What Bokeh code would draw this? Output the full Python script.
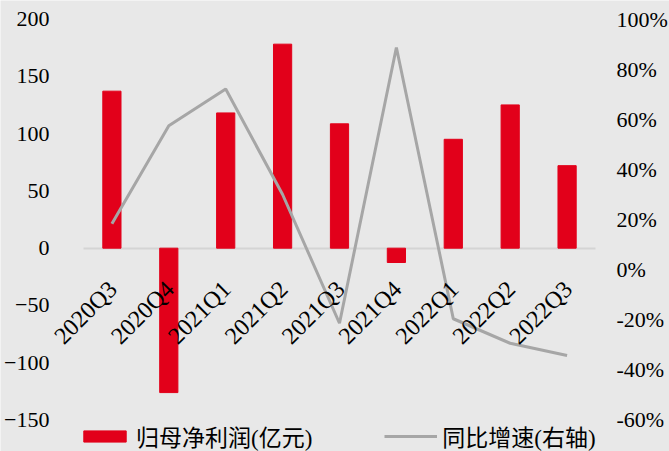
import math
from bokeh.plotting import figure
from bokeh.models import (Range1d, LinearAxis, FixedTicker, NumeralTickFormatter,
                          Legend, LegendItem, ColumnDataSource)
from bokeh.core.properties import value
from bokeh.embed import file_html
from bokeh.resources import INLINE

quarters = ["2020Q3", "2020Q4", "2021Q1", "2021Q2", "2021Q3", "2021Q4",
            "2022Q1", "2022Q2", "2022Q3"]
net_profit = [137, -126, 118, 178, 108.5, -12.5, 95, 125, 72]          # 亿元
yoy_growth = [0.183, 0.575, 0.722, 0.30, -0.215, 0.888, -0.197, -0.295, -0.344]

left_ticks = [-150, -100, -50, 0, 50, 100, 150, 200]
right_ticks = [-0.6, -0.4, -0.2, 0.0, 0.2, 0.4, 0.6, 0.8, 1.0]

BG = "#e8e8e8"
RED = "#e2001a"
GRAY = "#a6a6a6"
TICK_FONT = "Liberation Serif"
CJK_FONT = "Liberation Serif, 'Noto Sans CJK SC'"

n = len(quarters)
idx = list(range(n))
src = ColumnDataSource(dict(x=idx, q=quarters, v=net_profit, g=yoy_growth,
                            z=[0] * n))

# the plot frame covers the whole canvas; axes sit at fixed locations inside it
p = figure(width=669, height=451,
           x_range=Range1d(-1.958, 9.80), y_range=Range1d(-177.4, 216.1),
           x_axis_location=None, y_axis_location=None,
           output_backend="svg", toolbar_location=None,
           background_fill_color=BG, border_fill_color=BG,
           min_border=0, outline_line_color=None)
p.extra_y_ranges = {"pct": Range1d(-0.728, 1.076)}
p.xgrid.visible = False
p.ygrid.visible = False

# zero line (category axis) drawn under the bars
xa = LinearAxis(fixed_location=0, bounds=(-0.5, n - 0.5),
                ticker=FixedTicker(ticks=[]))
xa.axis_line_color = "#d4d4d4"
xa.axis_line_width = 2
xa.major_tick_line_color = None
xa.minor_tick_line_color = None
xa.level = "underlay"
p.add_layout(xa, "below")

bars = p.vbar(x="x", top="v", bottom=0, width=0.32, source=src,
              fill_color=RED, line_color=RED)
line = p.line(x="x", y="g", source=src, y_range_name="pct",
              line_color=GRAY, line_width=3)

# category labels
p.text(x="x", y="z", text="q", source=src, angle=math.pi / 4,
       text_align="right", text_baseline="middle", x_offset=1, y_offset=37,
       text_font=value(TICK_FONT), text_font_size="24px", text_color="black")

# left axis
ya = LinearAxis(fixed_location=-0.5, ticker=FixedTicker(ticks=left_ticks))
ya.axis_line_color = None
ya.major_tick_line_color = None
ya.minor_tick_line_color = None
ya.major_label_standoff = 28
ya.major_label_text_font = TICK_FONT
ya.major_label_text_font_size = "22px"
ya.major_label_text_color = "black"
p.add_layout(ya, "left")

# right axis
ra = LinearAxis(y_range_name="pct", fixed_location=n - 0.5,
                ticker=FixedTicker(ticks=right_ticks),
                formatter=NumeralTickFormatter(format="0%"))
ra.axis_line_color = None
ra.major_tick_line_color = None
ra.minor_tick_line_color = None
ra.major_label_standoff = 15
ra.major_label_text_font = TICK_FONT
ra.major_label_text_font_size = "22px"
ra.major_label_text_color = "black"
p.add_layout(ra, "right")

legend = Legend(items=[LegendItem(label="归母净利润(亿元)", renderers=[bars]),
                       LegendItem(label="同比增速(右轴)", renderers=[line])],
                orientation="horizontal", location=(78, -2),
                glyph_width=53, glyph_height=14, label_standoff=5, spacing=72,
                padding=0, margin=0, background_fill_alpha=0, border_line_alpha=0,
                label_text_font=CJK_FONT, label_text_font_size="23px",
                label_text_color="black")
p.add_layout(legend, "center")

open("out.html", "w").write(file_html(p, INLINE))
